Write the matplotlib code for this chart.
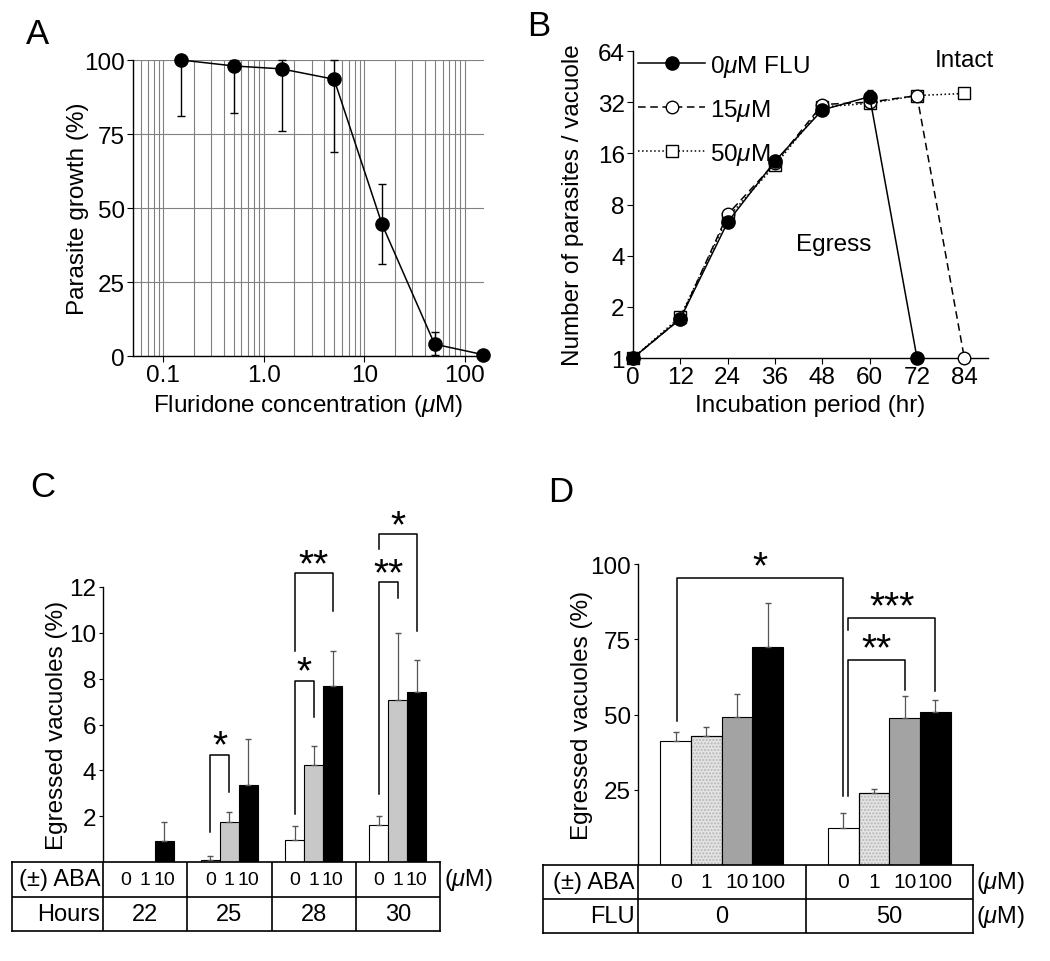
import numpy as np
import matplotlib.pyplot as plt
from matplotlib.ticker import LogLocator, NullFormatter

plt.rcParams['font.family'] = ['Liberation Sans', 'DejaVu Sans']
plt.rcParams['mathtext.fontset'] = 'custom'
plt.rcParams['mathtext.rm'] = 'Liberation Sans'
plt.rcParams['mathtext.it'] = 'Liberation Sans:italic'
plt.rcParams['font.size'] = 17.5
plt.rcParams['axes.linewidth'] = 1.0

# A: dose response
conc = [0.15, 0.5, 1.5, 5, 15, 50, 150]
growth = [100, 98, 97, 93.5, 44.5, 4, 0.5]
growth_lo = [19, 16, 21, 24.5, 13.5, 3.5, 0]
growth_hi = [0, 2, 3, 6.5, 13.5, 4, 0]

# B: parasites per vacuole
hours = [0, 12, 24, 36, 48, 60, 72, 84]
flu_0 = [1, 1.7, 6.3, 14.4, 28.8, 34.5, 1]
flu_0_err = [0, 0.1, 0.3, 0.5, 1.0, 3.0, 0]
flu_15 = [1, 1.7, 7.0, 14.0, 31.0, 32.0, 35.0, 1]
flu_50 = [1, 1.75, 6.7, 13.6, 30.0, 31.5, 35.0, 36.0]

# C: egress vs time
hours_c = ['22', '25', '28', '30']
aba_c = ['0', '1', '10']
egress_c = [[0, 0, 0.9], [0.1, 1.75, 3.35], [0.97, 4.24, 7.68], [1.63, 7.07, 7.42]]
egress_c_err = [[0, 0, 0.85], [0.17, 0.43, 2.0], [0.6, 0.83, 1.52], [0.37, 2.93, 1.4]]
# group, left bar, right bar, top, left leg end, right leg end, stars
sig_c = [(1, 0, 1, 4.67, 1.3, 3.05, '*'),
         (2, 0, 1, 7.9, 2.1, 6.33, '*'),
         (2, 0, 2, 12.6, 9.2, 10.95, '**'),
         (3, 0, 1, 12.2, 2.97, 11.5, '**'),
         (3, 0, 2, 14.3, 13.65, 10.1, '*')]

# D: egress with fluridone
aba_d = ['0', '1', '10', '100']
flu_d = ['0', '50']
egress_d = [[41.3, 43.0, 49.3, 72.5], [12.3, 24.0, 48.7, 50.7]]
egress_d_err = [[3.0, 3.0, 7.4, 14.7], [5.0, 1.3, 7.6, 4.0]]
# (group, bar) left, (group, bar) right, top, left leg end, right leg end, stars
sig_d = [((0, 0), (1, 0), 95.3, 47.7, 23, '*'),
         ((1, 0), (1, 2), 68, 23, 58, '**'),
         ((1, 0), (1, 3), 82, 78, 57.7, '***')]

W, H = 1050, 962


def box(l, t, r, b):
    return [l / W, 1 - b / H, (r - l) / W, (b - t) / H]


fig = plt.figure(figsize=(W / 100, H / 100), dpi=100)

# ---------- A ----------
ax = fig.add_axes(box(133, 61, 484, 357))
ax.set_xscale('log')
ax.set_xlim(0.05, 155)
ax.set_ylim(0, 100)
ax.xaxis.set_minor_locator(LogLocator(subs=np.arange(2, 10)))
ax.xaxis.set_minor_formatter(NullFormatter())
ax.set_xticks([0.1, 1, 10, 100])
ax.set_xticklabels(['0.1', '1.0', '10', '100'])
ax.set_yticks([0, 25, 50, 75, 100])
ax.grid(True, which='both', axis='x', color='#808080', lw=0.8)
ax.grid(True, which='major', axis='y', color='#808080', lw=0.8)
ax.set_axisbelow(True)
for s in ['top', 'right']:
    ax.spines[s].set_visible(False)
ax.tick_params(which='both', length=4, width=0.8, pad=2)
ax.tick_params(which='minor', length=0)
ax.errorbar(conc, growth, yerr=[growth_lo, growth_hi], fmt='none', ecolor='black',
            elinewidth=1, capsize=3, clip_on=False)
ax.plot(conc, growth, 'o-', color='black', ms=9.5, lw=1.1, clip_on=False, zorder=5)
ax.set_ylabel('Parasite growth (%)', labelpad=-4)
ax.set_xlabel(r'Fluridone concentration ($\mu$M)', labelpad=4)
fig.text(37 / W, 1 - 35 / H, 'A', fontsize=25, ha='center', va='center')

# ---------- B ----------
ax = fig.add_axes(box(633, 52, 988, 359))
ax.set_yscale('log', base=2)
ax.set_ylim(1, 64)
ax.set_xlim(0, 90)
ax.set_yticks([1, 2, 4, 8, 16, 32, 64])
ax.set_yticklabels(['1', '2', '4', '8', '16', '32', '64'])
ax.yaxis.set_minor_locator(plt.NullLocator())
ax.set_xticks(hours)
for s in ['top', 'right']:
    ax.spines[s].set_visible(False)
ax.tick_params(length=4, width=0.8, pad=2)
ax.errorbar(hours[:7], flu_0, yerr=flu_0_err, fmt='none', ecolor='black',
            elinewidth=0.8, capsize=2)
ax.plot(hours[:7], flu_0, '-o', color='black', ms=9.5, lw=1.1,
        label=r'0$\mu$M FLU', clip_on=False, zorder=5)
ax.plot(hours, flu_15, '--o', color='black', mfc='white', ms=9, lw=1.1,
        dashes=(5, 3), label=r'15$\mu$M', clip_on=False, zorder=4)
ax.plot(hours, flu_50, ':s', color='black', mfc='white', ms=8.5, lw=1.1,
        label=r'50$\mu$M', clip_on=False, zorder=3)
ax.legend(loc='upper left', bbox_to_anchor=(0.015, 0.995), frameon=False,
          handlelength=2.75, handletextpad=0.2, labelspacing=0.75,
          borderpad=0, borderaxespad=0, fontsize=17.5)
ax.text(84, 57, 'Intact', ha='center', va='center')
ax.text(51, 4.7, 'Egress', ha='center', va='center')
ax.set_ylabel('Number of parasites / vacuole', labelpad=10)
ax.set_xlabel('Incubation period (hr)', labelpad=4)
fig.text(539 / W, 1 - 27 / H, 'B', fontsize=25, ha='center', va='center')

# ---------- C ----------
off_c = [-0.225, 0.0, 0.225]
w_c = 0.225
colors_c = ['white', '#c8c8c8', 'black']
ax = fig.add_axes(box(103, 588, 440, 863))
ax.set_xlim(-0.5, 3.5)
ax.set_ylim(0, 12)
groups = np.arange(len(hours_c))
for j in range(len(aba_c)):
    vals = np.array([egress_c[g][j] for g in groups])
    errs = np.array([egress_c_err[g][j] for g in groups])
    ax.bar(groups + off_c[j], vals, w_c, color=colors_c[j], edgecolor='black', lw=0.8)
    m = errs > 0
    ax.errorbar((groups + off_c[j])[m], vals[m], yerr=[np.zeros(m.sum()), errs[m]],
                fmt='none', ecolor='#555555', elinewidth=0.9, capsize=2.5)
for g, bl, br, top, yl, yr, stars in sig_c:
    xl, xr = g + off_c[bl], g + off_c[br]
    ax.plot([xl, xl, xr, xr], [yl, top, top, yr], color='black', lw=1.1, clip_on=False)
    ax.annotate(stars, xy=((xl + xr) / 2, top), xytext=(0, -7), textcoords='offset points',
                ha='center', va='bottom', fontsize=28, annotation_clip=False)
ax.set_xticks([])
ax.set_yticks([2, 4, 6, 8, 10, 12])
ax.tick_params(length=3, width=0.8, pad=2)
for s in ['top', 'right', 'bottom']:
    ax.spines[s].set_visible(False)
ax.set_ylabel('Egressed vacuoles (%)', labelpad=1)
fig.text(43 / W, 1 - 488 / H, 'C', fontsize=25, ha='center', va='center')

tb = fig.add_axes(box(12, 863, 440, 932))
tb.set_xlim(-0.5 - 91 / 84.25, 3.5)
tb.set_ylim(0, 2)
tb.set_xticks([])
tb.set_yticks([])
for s in tb.spines.values():
    s.set_linewidth(1.2)
tb.axhline(1, color='black', lw=1.2)
for g in groups[:-1]:
    tb.axvline(g + 0.5, color='black', lw=1.2)
tb.axvline(-0.5, color='black', lw=1.2)
tb.text(-0.53, 1.5, '(±) ABA', ha='right', va='center', fontsize=17)
tb.text(-0.53, 0.5, 'Hours', ha='right', va='center', fontsize=17)
for g in groups:
    for j, lab in enumerate(aba_c):
        tb.text(g + off_c[j], 1.5, lab, ha='center', va='center', fontsize=14)
    tb.text(g, 0.5, hours_c[g], ha='center', va='center', fontsize=17)
tb.text(3.55, 1.5, r'($\mu$M)', ha='left', va='center', fontsize=17, clip_on=False)

# ---------- D ----------
off_d = [-0.275, -0.092, 0.092, 0.275]
w_d = 0.183
colors_d = ['white', '#e4e4e4', '#a3a3a3', 'black']
ax = fig.add_axes(box(638, 565, 973, 866))
ax.set_xlim(-0.5, 1.5)
ax.set_ylim(0, 100)
groups_d = np.arange(len(flu_d))
for j in range(len(aba_d)):
    vals = np.array([egress_d[g][j] for g in groups_d])
    errs = np.array([egress_d_err[g][j] for g in groups_d])
    ax.bar(groups_d + off_d[j], vals, w_d, color=colors_d[j], edgecolor='black', lw=0.8)
    if j == 1:
        ax.bar(groups_d + off_d[j], vals, w_d, fill=False, hatch='.....',
               edgecolor='#b5b5b5', lw=0)
        ax.bar(groups_d + off_d[j], vals, w_d, fill=False, edgecolor='black', lw=0.8)
    ax.errorbar(groups_d + off_d[j], vals, yerr=[np.zeros(len(vals)), errs],
                fmt='none', ecolor='#555555', elinewidth=0.9, capsize=2.5)
for (gl, bl), (gr, br), top, yl, yr, stars in sig_d:
    xl = gl + off_d[bl] + (0.03 if gl == 1 else 0.01)
    xr = gr + off_d[br]
    ax.plot([xl, xl, xr, xr], [yl, top, top, yr], color='black', lw=1.1, clip_on=False)
    ax.annotate(stars, xy=((xl + xr) / 2, top), xytext=(0, -5), textcoords='offset points',
                ha='center', va='bottom', fontsize=28, annotation_clip=False)
ax.set_xticks([])
ax.set_yticks([25, 50, 75, 100])
ax.tick_params(length=3, width=0.8, pad=2)
for s in ['top', 'right', 'bottom']:
    ax.spines[s].set_visible(False)
ax.set_ylabel('Egressed vacuoles (%)', labelpad=-2)
fig.text(561 / W, 1 - 493 / H, 'D', fontsize=25, ha='center', va='center')

tb = fig.add_axes(box(543, 866, 973, 934))
tb.set_xlim(-0.5 - 95 / 167.5, 1.5)
tb.set_ylim(0, 2)
tb.set_xticks([])
tb.set_yticks([])
for s in tb.spines.values():
    s.set_linewidth(1.2)
tb.axhline(1, color='black', lw=1.2)
tb.axvline(-0.5, color='black', lw=1.2)
tb.axvline(0.5, color='black', lw=1.2)
tb.text(-0.52, 1.5, '(±) ABA', ha='right', va='center', fontsize=17)
tb.text(-0.52, 0.5, 'FLU', ha='right', va='center', fontsize=17)
for g in groups_d:
    for j, lab in enumerate(aba_d):
        tb.text(g + off_d[j], 1.5, lab, ha='center', va='center', fontsize=15)
    tb.text(g, 0.5, flu_d[g], ha='center', va='center', fontsize=17)
tb.text(1.52, 1.5, r'($\mu$M)', ha='left', va='center', fontsize=17, clip_on=False)
tb.text(1.52, 0.5, r'($\mu$M)', ha='left', va='center', fontsize=17, clip_on=False)

fig.savefig('out.png', dpi=100)
